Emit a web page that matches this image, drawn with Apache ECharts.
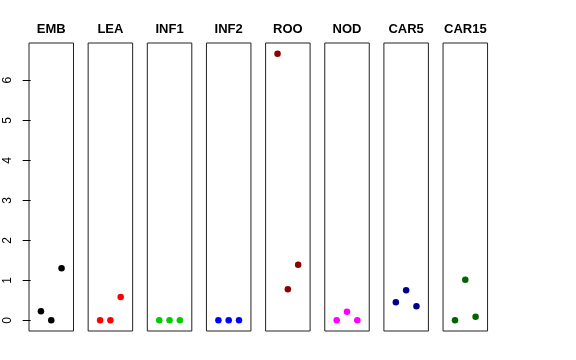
<!DOCTYPE html>
<html><head><meta charset="utf-8">
<script src="https://cdn.jsdelivr.net/npm/echarts@6/dist/echarts.min.js"></script>
<style>html,body{margin:0;padding:0;background:#fff}#c{width:576px;height:360px}</style>
</head><body><div id="c"></div>
<script>
var panels = ['EMB','LEA','INF1','INF2','ROO','NOD','CAR5','CAR15'];
var positions = [1, 2, 3];
var EMB = [0.225, 0, 1.30];
var LEA = [0, 0, 0.58];
var INF1 = [0, 0, 0];
var INF2 = [0, 0, 0];
var ROO = [6.665, 0.775, 1.39];
var NOD = [0, 0.215, 0];
var CAR5 = [0.45, 0.75, 0.35];
var CAR15 = [0, 1.015, 0.09];
var yTicks = [0, 1, 2, 3, 4, 5, 6];
var colors = ['#000000','#FF0000','#00CD00','#0000FF','#8B0000','#FF00FF','#00008B','#006400'];
var values = [EMB, LEA, INF1, INF2, ROO, NOD, CAR5, CAR15];

(function(){
var chart = echarts.init(document.getElementById('c'), null, {renderer:'canvas'});
var grids = [], xAxes = [], yAxes = [], series = [], graphics = [];
var left0 = 29, pitch = 59.15, gw = 44.5, gTop = 43, gh = 288;
var ymin = -0.267, ymax = 6.932;
panels.forEach(function(name, i){
  var l = left0 + i * pitch;
  grids.push({left: l, top: gTop, width: gw, height: gh, show: true, borderColor: '#222', borderWidth: 1, backgroundColor: 'transparent'});
  xAxes.push({gridIndex: i, type: 'value', min: -0.16, max: 4.16, show: false});
  yAxes.push({gridIndex: i, type: 'value', min: ymin, max: ymax, show: i === 0,
    splitLine: {show: false}, axisLine: {show: false},
    axisTick: {show: true, length: 8, lineStyle: {color: '#000'}, customValues: yTicks},
    axisLabel: {show: true, rotate: 90, margin: 15, color: '#000', fontSize: 12, fontFamily: 'Liberation Sans, Arial, sans-serif', customValues: yTicks}
  });
  series.push({type: 'scatter', xAxisIndex: i, yAxisIndex: i, symbol: 'circle', symbolSize: 6.5,
    itemStyle: {color: colors[i], opacity: 1}, silent: true,
    data: positions.map(function(x, k){ return [x, values[i][k]]; })});
  graphics.push({type: 'text', x: l + gw / 2, y: 29, style: {text: name, textAlign: 'center', textVerticalAlign: 'middle', font: 'bold 13px "Liberation Sans", Arial, sans-serif', fill: '#000'}});
});
chart.setOption({animation: false, grid: grids, xAxis: xAxes, yAxis: yAxes, series: series, graphic: graphics});
})();
</script></body></html>
